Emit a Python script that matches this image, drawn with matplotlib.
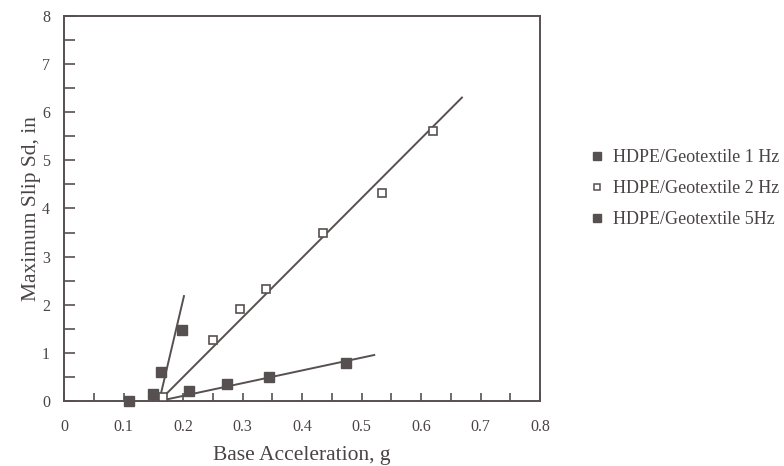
import numpy as np
import matplotlib
matplotlib.use("Agg")
import matplotlib.pyplot as plt
from matplotlib.lines import Line2D
from matplotlib.ticker import MultipleLocator, FormatStrFormatter

## DATA ##
# base acceleration (g) vs maximum slip (in)
acc_1hz = [0.11, 0.163, 0.198]
slip_1hz = [0.0, 0.60, 1.48]

acc_2hz = [0.166, 0.25, 0.296, 0.339, 0.435, 0.535, 0.62]
slip_2hz = [0.08, 1.27, 1.91, 2.33, 3.49, 4.33, 5.61]

acc_5hz = [0.15, 0.21, 0.274, 0.345, 0.474]
slip_5hz = [0.15, 0.21, 0.35, 0.50, 0.79]

# fitted trend lines (end points)
fit_acc_1hz = [0.16, 0.202]
fit_slip_1hz = [0.0, 2.2]
fit_acc_2hz = [0.16, 0.67]
fit_slip_2hz = [0.0, 6.32]
fit_acc_5hz = [0.16, 0.523]
fit_slip_5hz = [0.0, 0.96]

labels = ["HDPE/Geotextile 1 Hz", "HDPE/Geotextile 2 Hz", "HDPE/Geotextile 5Hz"]

## STYLE ##
INK = "#575050"
TXT = "#4a4444"
plt.rcParams["font.family"] = ["Liberation Serif", "DejaVu Serif"]

fig = plt.figure(figsize=(7.84, 4.66), dpi=100)
ax = fig.add_axes([64/784, 1-401/466, (540-64)/784, (401-16)/466])

# trend lines
for fx, fy in [(fit_acc_1hz, fit_slip_1hz), (fit_acc_2hz, fit_slip_2hz), (fit_acc_5hz, fit_slip_5hz)]:
    ax.plot(fx, fy, color=INK, lw=1.4, solid_capstyle="butt", zorder=2)

ax.plot(acc_1hz, slip_1hz, ls="none", marker="s", ms=6.5, mfc=INK, mec=INK, zorder=3, clip_on=False)
ax.plot(acc_5hz, slip_5hz, ls="none", marker="s", ms=6.5, mfc=INK, mec=INK, zorder=3, clip_on=False)
ax.plot(acc_2hz, slip_2hz, ls="none", marker="s", ms=5.5, mfc="white", mec=INK, mew=1.2, zorder=4, clip_on=False)

ax.set_xlim(0, 0.8)
ax.set_ylim(0, 8)
ax.xaxis.set_major_locator(MultipleLocator(0.1))
ax.xaxis.set_minor_locator(MultipleLocator(0.05))
ax.yaxis.set_major_locator(MultipleLocator(1))
ax.yaxis.set_minor_locator(MultipleLocator(0.5))
ax.xaxis.set_major_formatter(FormatStrFormatter("%g"))

ax.tick_params(axis="both", which="both", direction="in", color=INK, width=1.2,
               labelcolor=TXT, labelsize=11.5)
ax.tick_params(axis="x", which="both", length=6, pad=13)
ax.tick_params(axis="y", which="both", length=8, pad=10)
for s in ax.spines.values():
    s.set_color(INK)
    s.set_linewidth(1.4)

ax.set_xlabel("Base Acceleration, g", fontsize=15.5, color=TXT, labelpad=8)
ax.set_ylabel("Maximum Slip Sd, in", fontsize=15.5, color=TXT, labelpad=1)

handles = [
    Line2D([], [], ls="none", marker="s", ms=6, mfc=INK, mec=INK),
    Line2D([], [], ls="none", marker="s", ms=5, mfc="white", mec=INK, mew=1.1),
    Line2D([], [], ls="none", marker="s", ms=6, mfc=INK, mec=INK),
]
fig.legend(handles, labels, loc="upper left", bbox_to_anchor=(591/784, 1-149/466),
           frameon=False, fontsize=13, handlelength=0.7, handletextpad=0.5,
           labelspacing=0.78, borderaxespad=0, borderpad=0, labelcolor=TXT)

fig.savefig("out.png", dpi=100, facecolor="white")
